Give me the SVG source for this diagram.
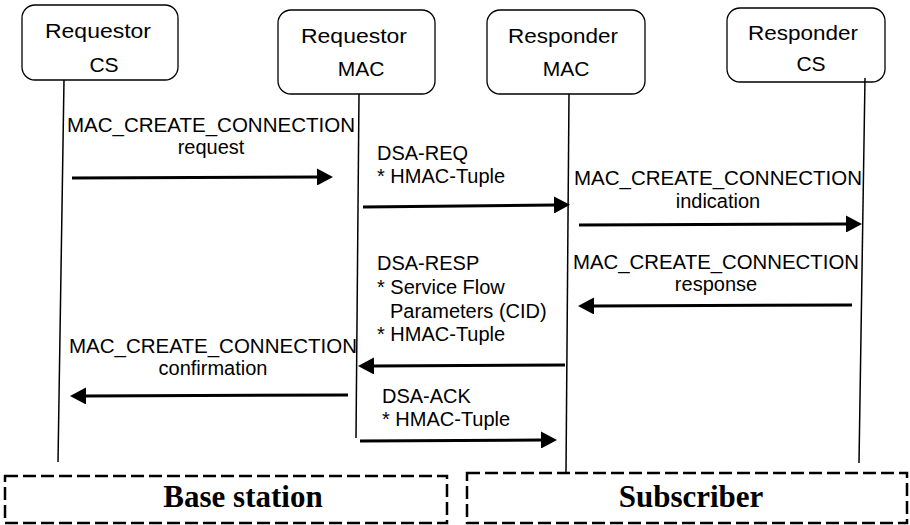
<svg xmlns="http://www.w3.org/2000/svg" width="910" height="525" viewBox="0 0 910 525">
<style>
.node{fill:#fff;stroke:#000;stroke-width:1.3}
.nt{font-family:"Liberation Sans",Arial,sans-serif;font-size:21px;fill:#000;text-anchor:middle}
.life{stroke:#000;stroke-width:1.5;fill:none}
.msg{stroke:#000;stroke-width:3;fill:none;marker-end:url(#ah)}
.lbl{font-family:"Liberation Sans",Arial,sans-serif;font-size:20px;fill:#000}
.ctr{text-anchor:middle}
.grp{fill:none;stroke:#000;stroke-width:2.5;stroke-dasharray:13 5}
.gt{font-family:"Liberation Serif","Times New Roman",serif;font-weight:bold;font-size:31px;fill:#000;text-anchor:middle}
</style>
<defs>
<marker id="ah" viewBox="0 0 16 17" markerWidth="16" markerHeight="17" refX="1" refY="8.5" orient="auto" markerUnits="userSpaceOnUse">
<path d="M0,0 L16,8.5 L0,17 z" fill="#000"/>
</marker>
</defs>

<g id="node-requestor-cs">
<rect class="node" x="22" y="5" width="156" height="75" rx="13"/>
<text class="nt" x="98" y="38" textLength="106" lengthAdjust="spacingAndGlyphs">Requestor</text>
<text class="nt" x="104" y="72">CS</text>
</g>
<g id="node-requestor-mac">
<rect class="node" x="278" y="10" width="157" height="84" rx="13"/>
<text class="nt" x="354" y="43" textLength="106" lengthAdjust="spacingAndGlyphs">Requestor</text>
<text class="nt" x="361" y="76">MAC</text>
</g>
<g id="node-responder-mac">
<rect class="node" x="487" y="10" width="158" height="84" rx="13"/>
<text class="nt" x="563" y="43" textLength="110" lengthAdjust="spacingAndGlyphs">Responder</text>
<text class="nt" x="566" y="76">MAC</text>
</g>
<g id="node-responder-cs">
<rect class="node" x="727" y="8" width="158" height="74" rx="13"/>
<text class="nt" x="803" y="40" textLength="110" lengthAdjust="spacingAndGlyphs">Responder</text>
<text class="nt" x="811" y="71">CS</text>
</g>

<g id="group-base-station">
<rect class="grp" x="5" y="476" width="442" height="47"/>
<text class="gt" x="243" y="507">Base station</text>
</g>
<g id="group-subscriber">
<rect class="grp" x="467" y="473" width="440" height="50"/>
<text class="gt" x="691" y="507">Subscriber</text>
</g>

<g id="connectors">
<line class="life" x1="64" y1="80" x2="58" y2="462"/>
<line class="life" x1="359" y1="94" x2="356" y2="438"/>
<line class="life" x1="569" y1="94" x2="566" y2="473"/>
<line class="life" x1="865" y1="78" x2="859" y2="463"/>

<line class="msg" x1="72" y1="178" x2="318" y2="177"/>
<line class="msg" x1="363" y1="207" x2="555" y2="205"/>
<line class="msg" x1="579" y1="225" x2="847" y2="224"/>
<line class="msg" x1="852" y1="305" x2="593" y2="306"/>
<line class="msg" x1="565" y1="365" x2="373" y2="366"/>
<line class="msg" x1="348" y1="395" x2="85" y2="396"/>
<line class="msg" x1="360" y1="441" x2="542" y2="440"/>
</g>

<g id="labels">
<text class="lbl" x="67" y="132" textLength="288" lengthAdjust="spacingAndGlyphs">MAC_CREATE_CONNECTION</text>
<text class="lbl ctr" x="211" y="154">request</text>

<text class="lbl" x="377" y="160">DSA-REQ</text>
<text class="lbl" x="377" y="183">* HMAC-Tuple</text>

<text class="lbl" x="574" y="185" textLength="288" lengthAdjust="spacingAndGlyphs">MAC_CREATE_CONNECTION</text>
<text class="lbl ctr" x="718" y="208">indication</text>

<text class="lbl" x="573" y="269" textLength="286" lengthAdjust="spacingAndGlyphs">MAC_CREATE_CONNECTION</text>
<text class="lbl ctr" x="716" y="291">response</text>

<text class="lbl" x="377" y="270">DSA-RESP</text>
<text class="lbl" x="377" y="294">* Service Flow</text>
<text class="lbl" x="390" y="318">Parameters (CID)</text>
<text class="lbl" x="377" y="341">* HMAC-Tuple</text>

<text class="lbl" x="69" y="353" textLength="288" lengthAdjust="spacingAndGlyphs">MAC_CREATE_CONNECTION</text>
<text class="lbl ctr" x="213" y="375">confirmation</text>

<text class="lbl" x="382" y="403">DSA-ACK</text>
<text class="lbl" x="382" y="426">* HMAC-Tuple</text>
</g>
</svg>
